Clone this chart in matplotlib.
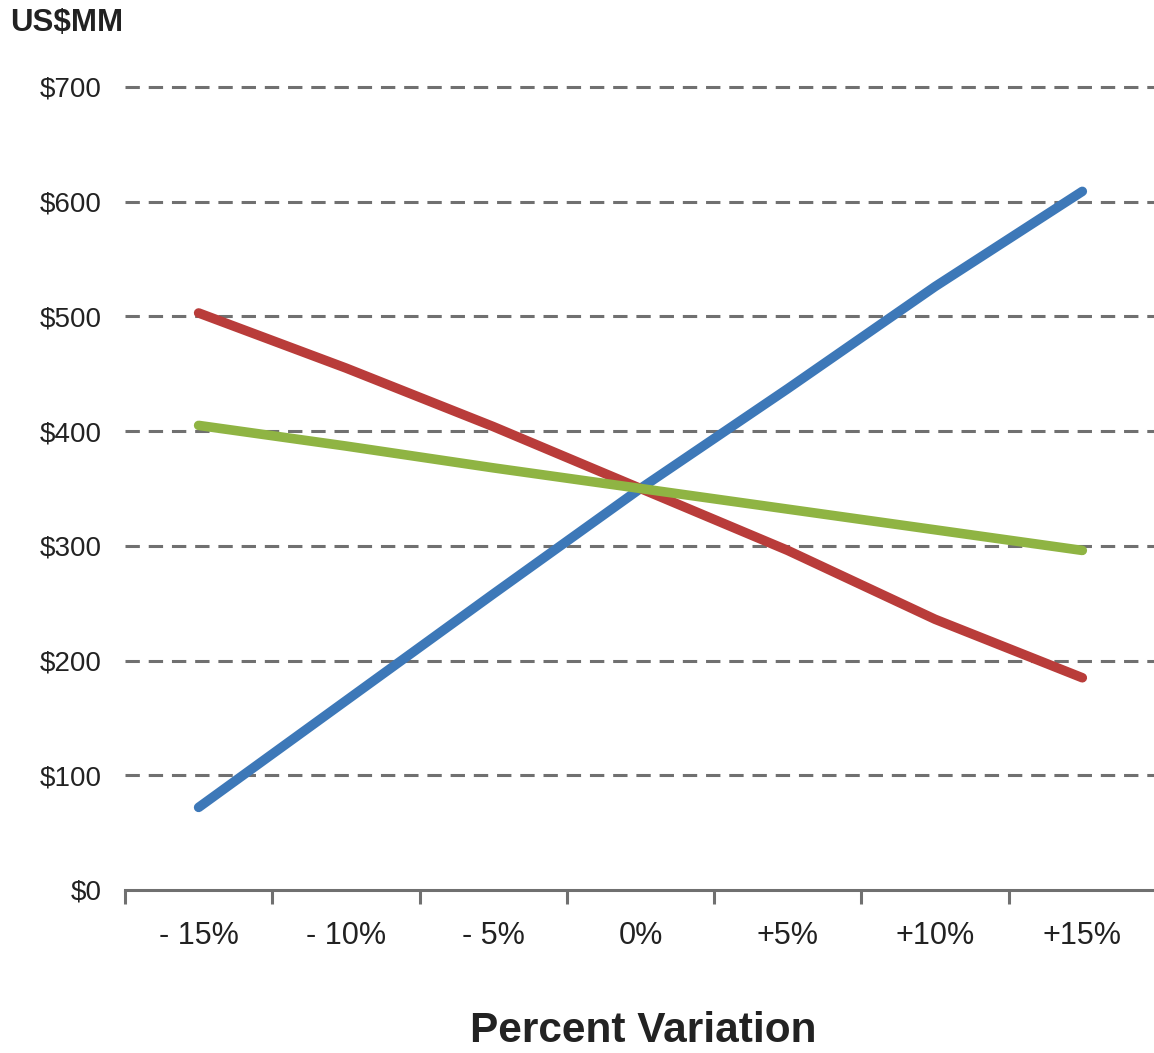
import matplotlib.pyplot as plt

plt.rcParams['font.family'] = ['Liberation Sans', 'DejaVu Sans']

# data
categories = ["- 15%", "- 10%", "- 5%", "0%", "+5%", "+10%", "+15%"]
blue_vals = [72, 165, 258, 350, 437, 526, 609]
red_vals = [503, 455, 404, 350, 296, 236, 185]
green_vals = [405, 387, 368, 350, 332, 314, 296]
y_ticks = [0, 100, 200, 300, 400, 500, 600, 700]
y_labels = ["$0", "$100", "$200", "$300", "$400", "$500", "$600", "$700"]

fig = plt.figure(figsize=(11.54, 10.53), dpi=100)
ax = fig.add_axes([0.1083, 0.1548, 0.8934, 0.7626])

x = list(range(len(categories)))
ax.plot(x, blue_vals, color="#3d78b8", lw=6.9, solid_capstyle="round", zorder=3)
ax.plot(x, red_vals, color="#b93c3a", lw=6.9, solid_capstyle="round", zorder=3)
ax.plot(x, green_vals, color="#8fb443", lw=6.9, solid_capstyle="round", zorder=4)

ax.set_xlim(-0.5, len(categories) - 0.5)
ax.set_ylim(0, 700)

# dashed gridlines
for v in y_ticks[1:]:
    ax.axhline(v, color="#707070", lw=2.2, dashes=(4.7, 2.9), zorder=1, clip_on=False)

ax.set_yticks(y_ticks)
ax.set_yticklabels(y_labels, fontsize=20, color="#222222")
ax.tick_params(axis="y", length=0, pad=17)

ax.set_xticks(x)
ax.set_xticklabels(categories, fontsize=22, color="#222222")
ax.set_xticks([i - 0.5 for i in range(len(categories))], minor=True)
ax.tick_params(axis="x", which="major", length=0, pad=22)
ax.tick_params(axis="x", which="minor", length=10, width=2.2, color="#707070", direction="out")

for s in ["left", "right", "top"]:
    ax.spines[s].set_visible(False)
ax.spines["bottom"].set_color("#707070")
ax.spines["bottom"].set_linewidth(2.2)

fig.text(0.009, 0.978, "US$MM", fontsize=22.5, fontweight="bold", color="#222222", va="center", ha="left")
fig.text(0.557, 0.021, "Percent Variation", fontsize=30.5, fontweight="bold", color="#222222", va="center", ha="center")

fig.savefig("out.png", dpi=100)
